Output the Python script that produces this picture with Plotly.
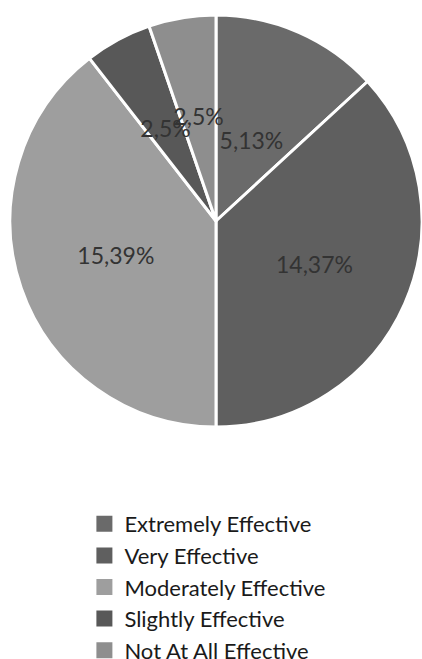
import plotly.graph_objects as go

categories = ["Extremely Effective", "Very Effective", "Moderately Effective",
              "Slightly Effective", "Not At All Effective"]
values = [5, 14, 15, 2, 2]
colors = ["#6a6a6a", "#5f5f5f", "#9e9e9e", "#585858", "#8e8e8e"]
# which labels sit in the outer ring vs. closer to the centre
outer_label = [False, True, True, False, False]

W, H = 422, 659
cx, cy, r = 216, 221, 206
lbl = "%{value},%{percent:.0%}"
font_lbl = dict(family="Lato, sans-serif", size=23, color="#333333")


def dom(rad):
    return dict(x=[max(0, (cx - rad) / W), min(1, (cx + rad) / W)],
                y=[1 - (cy + rad) / H, 1 - (cy - rad) / H])


fig = go.Figure()
fig.add_trace(go.Pie(
    labels=categories, values=values, sort=False, direction="clockwise",
    rotation=0,
    marker=dict(colors=colors, line=dict(color="white", width=3)),
    texttemplate=[lbl if o else "" for o in outer_label],
    textposition="inside", insidetextorientation="horizontal",
    textfont=font_lbl, domain=dom(r), showlegend=False,
    hoverinfo="label+value+percent",
))
r2 = r * 0.6
fig.add_trace(go.Pie(
    labels=categories, values=values, sort=False, direction="clockwise",
    rotation=0,
    marker=dict(colors=["rgba(0,0,0,0)"] * len(values),
                line=dict(color="rgba(0,0,0,0)", width=0)),
    texttemplate=["" if o else lbl for o in outer_label],
    textposition="inside", insidetextorientation="horizontal",
    textfont=font_lbl, domain=dom(r2), showlegend=False,
    hoverinfo="skip",
))
for cat, col in zip(categories, colors):
    fig.add_trace(go.Scatter(
        x=[None], y=[None], mode="markers", name=cat,
        marker=dict(symbol="square", size=17, color=col),
        hoverinfo="skip",
    ))

fig.update_layout(
    width=W, height=H,
    margin=dict(l=0, r=0, t=0, b=0, autoexpand=False),
    paper_bgcolor="white",
    plot_bgcolor="white",
    uniformtext=dict(minsize=23, mode="show"),
    xaxis=dict(visible=False), yaxis=dict(visible=False),
    showlegend=True,
    legend=dict(
        x=0.2, xanchor="left",
        y=1 - 503 / H, yanchor="top",
        font=dict(family="Lato, sans-serif", size=22, color="#1a1a1a"),
        tracegroupgap=0,
        itemwidth=30,
        bgcolor="rgba(0,0,0,0)",
    ),
)

fig.write_html("out.html")
